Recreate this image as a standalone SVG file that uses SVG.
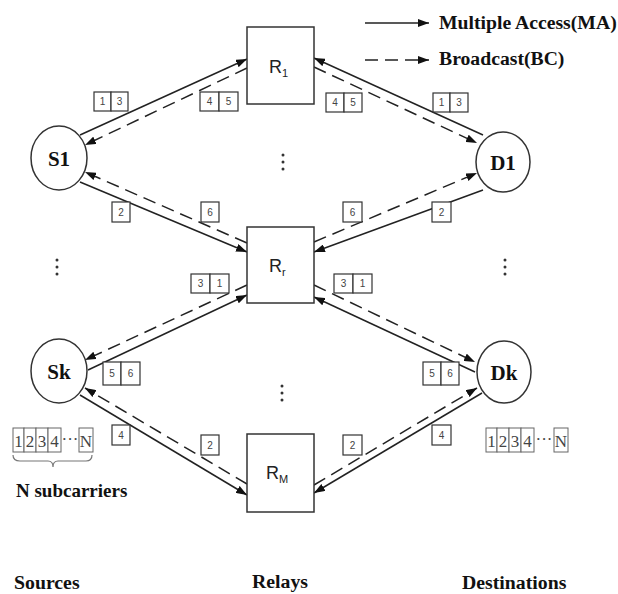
<svg xmlns="http://www.w3.org/2000/svg" width="618" height="594" viewBox="0 0 618 594">
<defs>
<marker id="ah" markerUnits="userSpaceOnUse" markerWidth="11" markerHeight="8" refX="11" refY="4" orient="auto">
<path d="M0,0 L11,4 L0,8 z" fill="#111"/>
</marker>
<style>
.ln{stroke:#222;stroke-width:1.5;fill:none;marker-end:url(#ah)}
.ds{stroke-dasharray:13,7}
.nd{fill:#fff;stroke:#333;stroke-width:1.5}
.bx{fill:#fff;stroke:#333;stroke-width:1.2}
.d{font-family:"Liberation Sans",Arial,sans-serif;font-size:10px;fill:#444;text-anchor:middle}
.lb{font-family:"Liberation Serif","Times New Roman",serif;font-weight:bold;fill:#111}
.rl{font-family:"Liberation Sans",Arial,sans-serif;font-size:18px;fill:#222}
.sc{fill:#fff;stroke:#666;stroke-width:1}
.st{font-family:"Liberation Serif","Times New Roman",serif;font-size:17px;fill:#444;text-anchor:middle}
.dot{fill:#333}
</style>
</defs>
<rect width="618" height="594" fill="#fff"/>

<g id="connectors">
<line class="ln" x1="80" y1="135" x2="247" y2="59"/>
<line class="ln ds" x1="247" y1="68" x2="85" y2="145"/>
<line class="ln" x1="483" y1="135" x2="314" y2="58"/>
<line class="ln ds" x1="314" y1="67" x2="477" y2="143"/>
<line class="ln" x1="80" y1="182" x2="247" y2="252"/>
<line class="ln ds" x1="247" y1="243" x2="85" y2="172"/>
<line class="ln" x1="483" y1="190" x2="314" y2="252"/>
<line class="ln ds" x1="314" y1="242" x2="477" y2="173"/>
<line class="ln" x1="88" y1="370" x2="247" y2="295"/>
<line class="ln ds" x1="247" y1="285" x2="85" y2="360"/>
<line class="ln" x1="475" y1="372" x2="314" y2="297"/>
<line class="ln ds" x1="314" y1="285" x2="475" y2="362"/>
<line class="ln" x1="80" y1="395" x2="247" y2="495"/>
<line class="ln ds" x1="247" y1="484" x2="85" y2="388"/>
<line class="ln" x1="482" y1="393" x2="314" y2="493"/>
<line class="ln ds" x1="314" y1="485" x2="477" y2="388"/>
</g>

<g id="legend">
<line class="ln" x1="365" y1="23" x2="429" y2="23"/>
<line class="ln ds" x1="365" y1="60" x2="429" y2="60"/>
<text class="lb" x="439" y="29" font-size="19.7">Multiple Access(MA)</text>
<text class="lb" x="439" y="65" font-size="19.7">Broadcast(BC)</text>
</g>

<g id="R1"><rect class="nd" x="247" y="27" width="67" height="77"/><text class="rl" x="269" y="73">R<tspan font-size="11" dy="4">1</tspan></text></g>
<g id="Rr"><rect class="nd" x="247" y="227" width="67" height="76"/><text class="rl" x="269" y="272">R<tspan font-size="11" dy="4">r</tspan></text></g>
<g id="RM"><rect class="nd" x="247" y="434" width="67" height="78"/><text class="rl" x="266" y="479">R<tspan font-size="11" dy="4">M</tspan></text></g>

<g id="S1"><ellipse class="nd" cx="59" cy="158" rx="28" ry="32"/><text class="lb" x="59" y="166" font-size="21" text-anchor="middle">S1</text></g>
<g id="D1"><ellipse class="nd" cx="503" cy="162" rx="27" ry="30"/><text class="lb" x="503" y="170" font-size="21" text-anchor="middle">D1</text></g>
<g id="Sk"><ellipse class="nd" cx="59" cy="371" rx="28" ry="32"/><text class="lb" x="59" y="379" font-size="21" text-anchor="middle">Sk</text></g>
<g id="Dk"><ellipse class="nd" cx="504" cy="372" rx="27" ry="31"/><text class="lb" x="504" y="380" font-size="21" text-anchor="middle">Dk</text></g>

<g id="labels">
<rect class="bx" x="94" y="92" width="17" height="19"/><rect class="bx" x="111" y="92" width="17" height="19"/>
<text class="d" x="102.5" y="105">1</text><text class="d" x="119.5" y="105">3</text>
<rect class="bx" x="200" y="92" width="19" height="19"/><rect class="bx" x="219" y="92" width="19" height="19"/>
<text class="d" x="209.5" y="105">4</text><text class="d" x="228.5" y="105">5</text>
<rect class="bx" x="326" y="93" width="18" height="19"/><rect class="bx" x="344" y="93" width="18" height="19"/>
<text class="d" x="335" y="106">4</text><text class="d" x="353" y="106">5</text>
<rect class="bx" x="433" y="93" width="17" height="19"/><rect class="bx" x="450" y="93" width="18" height="19"/>
<text class="d" x="441.5" y="106">1</text><text class="d" x="459" y="106">3</text>

<rect class="bx" x="112" y="202" width="18" height="20"/><text class="d" x="121" y="216">2</text>
<rect class="bx" x="201" y="202" width="18" height="20"/><text class="d" x="210" y="216">6</text>
<rect class="bx" x="343" y="202" width="19" height="20"/><text class="d" x="352.5" y="216">6</text>
<rect class="bx" x="432" y="202" width="19" height="20"/><text class="d" x="441.5" y="216">2</text>

<rect class="bx" x="191" y="274" width="19" height="19"/><rect class="bx" x="210" y="274" width="19" height="19"/>
<text class="d" x="200.5" y="287">3</text><text class="d" x="219.5" y="287">1</text>
<rect class="bx" x="334" y="274" width="19" height="19"/><rect class="bx" x="353" y="274" width="19" height="19"/>
<text class="d" x="343.5" y="287">3</text><text class="d" x="362.5" y="287">1</text>

<rect class="bx" x="103" y="362" width="18" height="23"/><rect class="bx" x="121" y="362" width="19" height="23"/>
<text class="d" x="112" y="377">5</text><text class="d" x="130.5" y="377">6</text>
<rect class="bx" x="423" y="362" width="18" height="23"/><rect class="bx" x="441" y="362" width="18" height="23"/>
<text class="d" x="432" y="377">5</text><text class="d" x="450" y="377">6</text>

<rect class="bx" x="112" y="425" width="18" height="20"/><text class="d" x="121" y="439">4</text>
<rect class="bx" x="201" y="435" width="18" height="20"/><text class="d" x="210" y="449">2</text>
<rect class="bx" x="343" y="435" width="19" height="20"/><text class="d" x="352.5" y="449">2</text>
<rect class="bx" x="432" y="425" width="19" height="20"/><text class="d" x="441.5" y="439">4</text>
</g>

<g id="subcarriers-left">
<rect class="sc" x="13" y="428" width="11" height="24"/><rect class="sc" x="24" y="428" width="12" height="24"/><rect class="sc" x="36" y="428" width="12" height="24"/><rect class="sc" x="48" y="428" width="13" height="24"/><rect class="sc" x="79" y="428" width="14" height="24"/>
<text class="st" x="18.5" y="447">1</text><text class="st" x="30" y="447">2</text><text class="st" x="42" y="447">3</text><text class="st" x="54.5" y="447">4</text><text class="st" x="70" y="445" font-size="12">···</text><text class="st" x="86" y="447">N</text>
<path d="M13,455 Q13,461 20,461 L48,461 Q53,461 53,467 Q53,461 58,461 L86,461 Q92,461 92,455" fill="none" stroke="#777" stroke-width="1.2"/>
<text class="lb" x="16" y="497" font-size="19">N subcarriers</text>
</g>

<g id="subcarriers-right">
<rect class="sc" x="486" y="428" width="11" height="24"/><rect class="sc" x="497" y="428" width="12" height="24"/><rect class="sc" x="509" y="428" width="12" height="24"/><rect class="sc" x="521" y="428" width="13" height="24"/><rect class="sc" x="554" y="428" width="14" height="24"/>
<text class="st" x="491.5" y="447">1</text><text class="st" x="503" y="447">2</text><text class="st" x="515" y="447">3</text><text class="st" x="527.5" y="447">4</text><text class="st" x="544" y="445" font-size="12">···</text><text class="st" x="561" y="447">N</text>
</g>

<g id="ellipses">
<circle class="dot" cx="283" cy="155" r="1.5"/><circle class="dot" cx="283" cy="162" r="1.5"/><circle class="dot" cx="283" cy="169" r="1.5"/>
<circle class="dot" cx="57" cy="260" r="1.5"/><circle class="dot" cx="57" cy="267" r="1.5"/><circle class="dot" cx="57" cy="274" r="1.5"/>
<circle class="dot" cx="505" cy="260" r="1.5"/><circle class="dot" cx="505" cy="267" r="1.5"/><circle class="dot" cx="505" cy="274" r="1.5"/>
<circle class="dot" cx="282" cy="386" r="1.5"/><circle class="dot" cx="282" cy="393" r="1.5"/><circle class="dot" cx="282" cy="400" r="1.5"/>
</g>

<g id="captions">
<text class="lb" x="14" y="589" font-size="19.8">Sources</text>
<text class="lb" x="252" y="588" font-size="19.8">Relays</text>
<text class="lb" x="462" y="589" font-size="19.8">Destinations</text>
</g>
</svg>
